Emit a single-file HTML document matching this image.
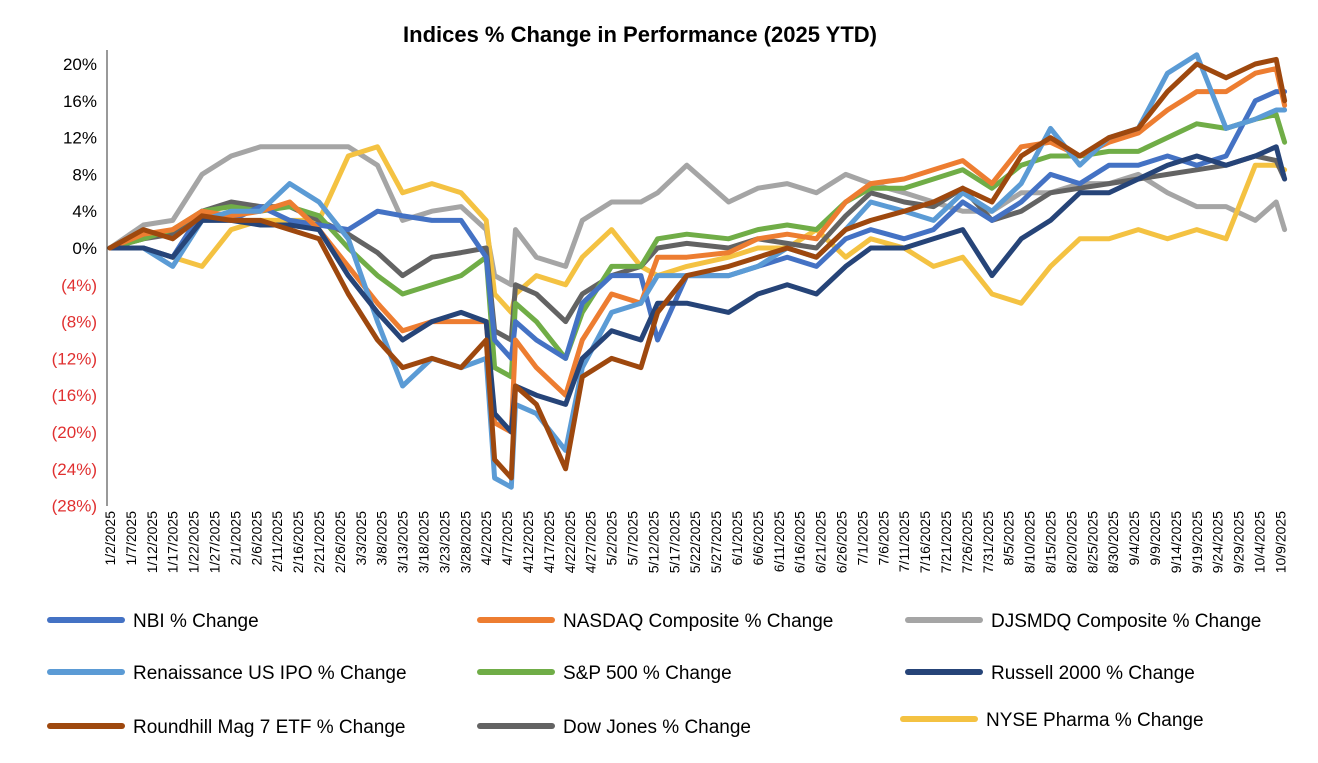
<!DOCTYPE html>
<html><head><meta charset="utf-8"><style>
body{margin:0;background:#fff;}
svg text{font-family:"Liberation Sans",sans-serif;}
</style></head><body>
<svg id="chart" width="1318" height="758" xmlns="http://www.w3.org/2000/svg">
<text x="640" y="42" text-anchor="middle" font-size="22" font-weight="bold">Indices % Change in Performance (2025 YTD)</text>
<g id="grid"></g><g id="series"></g><g id="xlabels"></g><g id="legend"></g>
</svg>
<script>
const days=[0,8,15,22,29,36,43,50,57,64,70,77,84,90,92,96,97,102,109,113,120,127,131,138,148,155,162,169,176,182,190,197,204,211,218,225,232,239,246,253,260,267,274,279,281];
const yTicks=[20,16,12,8,4,0,-4,-8,-12,-16,-20,-24,-28];
const nbi=[0,0,-1,4,3,4.5,3,2.5,2,4,3.5,3,3,-1,-10,-12,-8,-10,-12,-6,-3,-3,-10,-3,-3,-2,-1,-2,1,2,1,2,5,3,5,8,7,9,9,10,9,10,16,17,17];
const nasdaq=[0,1.5,2,4,3.5,4,5,2,-2,-6,-9,-8,-8,-8,-19,-20,-10,-13,-16,-10,-5,-6,-1,-1,-0.5,1,1.5,1,5,7,7.5,8.5,9.5,7,11,11.5,10,11.5,12.5,15,17,17,19,19.5,15.5];
const djsmdq=[0,2.5,3,8,10,11,11,11,11,9,3,4,4.5,2,-3,-4,2,-1,-2,3,5,5,6,9,5,6.5,7,6,8,7,6,5,4,4,6,6,7,7,8,6,4.5,4.5,3,5,2];
const ipo=[0,0,-2,3,4,4,7,5,1,-8,-15,-12,-13,-12,-25,-26,-17,-18,-22,-13,-7,-6,-3,-3,-3,-2,0,-1,2,5,4,3,6,4,7,13,9,12,13,19,21,13,14,15,15];
const sp500=[0,1,2,4,4.5,4,4.5,3.5,0,-3,-5,-4,-3,-1,-13,-14,-6,-8,-12,-7,-2,-2,1,1.5,1,2,2.5,2,5,6.5,6.5,7.5,8.5,6.5,9,10,10,10.5,10.5,12,13.5,13,14,14.5,11.5];
const russell=[0,0,-1,3,3,2.5,2.5,2,-3,-7,-10,-8,-7,-8,-18,-20,-15,-16,-17,-12,-9,-10,-6,-6,-7,-5,-4,-5,-2,0,0,1,2,-3,1,3,6,6,7.5,9,10,9,10,11,7.5];
const mag7=[0,2,1,3.5,3,3,2,1,-5,-10,-13,-12,-13,-10,-23,-25,-15,-17,-24,-14,-12,-13,-7,-3,-2,-1,0,-1,2,3,4,5,6.5,5,10,12,10,12,13,17,20,18.5,20,20.5,16];
const dow=[0,1,1.5,4,5,4.5,4.5,3,1.5,-0.5,-3,-1,-0.5,0,-9,-10,-4,-5,-8,-5,-3,-2,0,0.5,0,1,0.5,0,3.5,6,5,4.5,6.5,3,4,6,6.5,7,7.5,8,8.5,9,10,9.5,7.5];
const pharma=[0,0,-1,-2,2,3,3,3,10,11,6,7,6,3,-5,-7,-5,-3,-4,-1,2,-2,-3,-2,-1,0,0,2,-1,1,0,-2,-1,-5,-6,-2,1,1,2,1,2,1,9,9,8.5];
const names=["NBI % Change","NASDAQ Composite % Change","DJSMDQ Composite % Change","Renaissance US IPO % Change","S&P 500 % Change","Russell 2000 % Change","Roundhill Mag 7 ETF % Change","Dow Jones % Change","NYSE Pharma % Change"];
const seriesData=[nbi,nasdaq,djsmdq,ipo,sp500,russell,mag7,dow,pharma];
const colors=["#4472C4","#ED7D31","#A5A5A5","#5B9BD5","#70AD47","#264478","#9E480E","#636363","#F4C242"];
const slugs=["nbi","nasdaq","djsmdq","renaissance-ipo","sp500","russell-2000","roundhill-mag7","dow-jones","nyse-pharma"];
const NS="http://www.w3.org/2000/svg";
const xS=d=>110+d*4.18;
const yS=v=>248-v*9.2;
function mk(tag,attrs,parent){const e=document.createElementNS(NS,tag);for(const k in attrs)e.setAttribute(k,attrs[k]);parent.appendChild(e);return e;}
const grid=document.getElementById('grid');
let ax=mk('line',{x1:107,y1:50,x2:107,y2:506,stroke:'#333','stroke-width':1},grid);


yTicks.forEach(v=>{
 const t=mk('text',{x:97,y:yS(v)+6,'text-anchor':'end','font-size':17,fill:v<0?'#E03030':'#000'},grid);
 t.textContent=v<0?'('+(-v)+'%)':v+'%';
 
 
});
const xl=document.getElementById('xlabels');
for(let d=0;d<=280;d+=5){
 const dt=new Date(2025,0,2+d);
 const lab=(dt.getMonth()+1)+'/'+dt.getDate()+'/2025';
 const x=xS(d)+5;
 const t=mk('text',{x:x,y:511,'text-anchor':'end','font-size':14,transform:`rotate(-90 ${x} 511)`},xl);
 t.textContent=lab;
 
 
}
const sg=document.getElementById('series');
const order=[2,8,7,4,0,1,3,5,6];
order.forEach(i=>{
 const pts=seriesData[i].map((v,j)=>xS(days[j]).toFixed(1)+','+yS(v).toFixed(1)).join(' ');
 const p=mk('polyline',{points:pts,fill:'none',stroke:colors[i],'stroke-width':5,'stroke-linejoin':'round','stroke-linecap':'round'},sg);
 
 
});
const lg=document.getElementById('legend');
const lpos=[[50,620],[480,620],[908,620],[50,672],[480,672],[908,672],[50,726],[480,726],[903,719]];
lpos.forEach((p,i)=>{
 const g=mk('g',{},lg);
 
 
 mk('line',{x1:p[0],y1:p[1],x2:p[0]+72,y2:p[1],stroke:colors[i],'stroke-width':6,'stroke-linecap':'round'},g);
 const t=mk('text',{x:p[0]+83,y:p[1]+7,'font-size':19},g);
 t.textContent=names[i];
});
</script>
</body></html>
